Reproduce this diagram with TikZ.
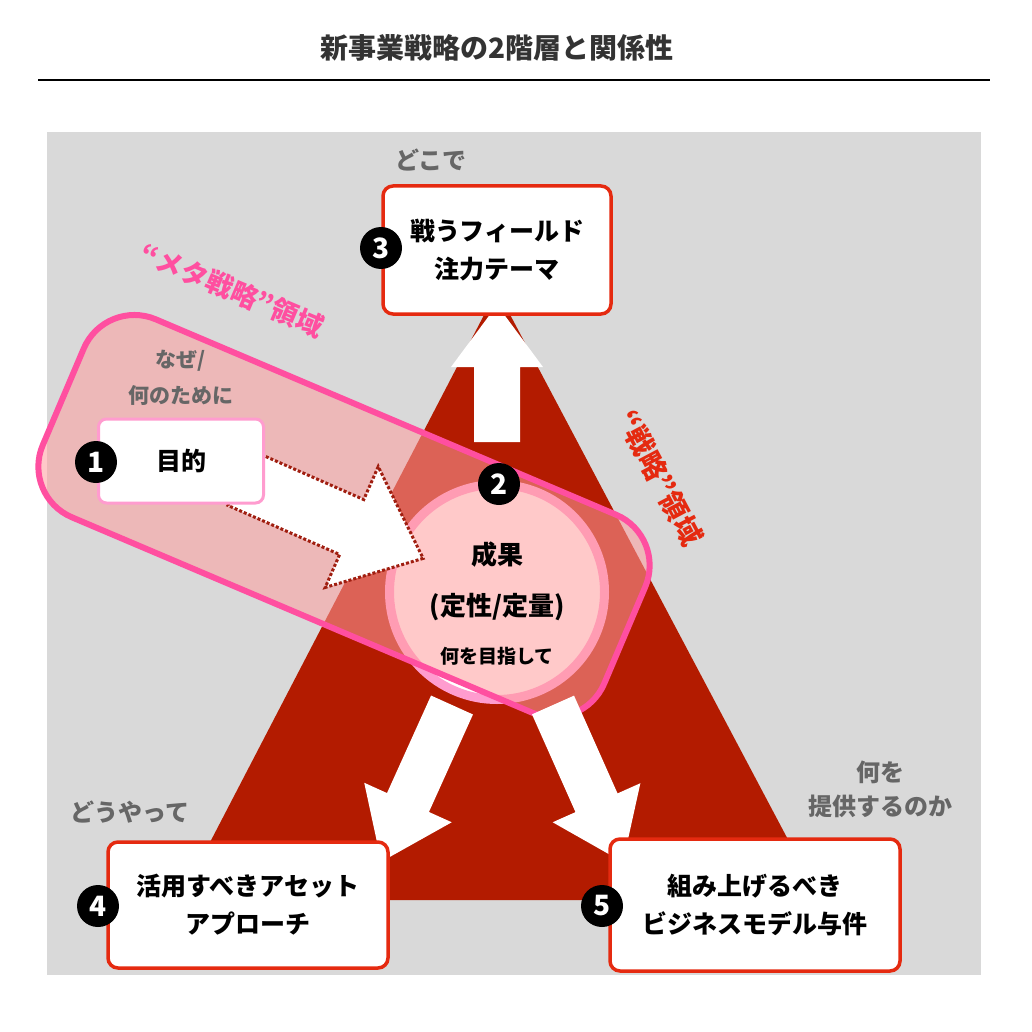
\documentclass[tikz,border=0pt]{standalone}
\usepackage{fontspec}
\setmainfont{Noto Sans CJK JP}
\usetikzlibrary{positioning}
\definecolor{bggray}{HTML}{D9D9D9}
\definecolor{tri}{HTML}{B31B00}
\definecolor{bandline}{HTML}{FF4FA0}
\definecolor{bandfill}{HTML}{FF9D9D}
\definecolor{boxred}{HTML}{E52A10}
\definecolor{boxpink}{HTML}{FF9CCF}
\definecolor{labgray}{HTML}{666666}
\definecolor{dotred}{HTML}{A01E10}
% tail, angle, length, shaft half width, head half width, head length, style
\newcommand{\fatarrow}[7]{%
  \begin{scope}[shift={#1},rotate=#2]
    \path[#7] (0,-#4) -- (#3-#6,-#4) -- (#3-#6,-#5) -- (#3,0) -- (#3-#6,#5) -- (#3-#6,#4) -- (0,#4) -- cycle;
  \end{scope}}
\begin{document}
\begin{tikzpicture}[x=1pt, y=-1pt, font=\bfseries]
    % Define styles
    \tikzset{
      redbox/.style={draw=boxred, line width=3.5pt, fill=white, rounded corners=10pt, align=center, font=\fontsize{25}{38}\selectfont\bfseries},
      badge/.style={circle, fill=black, text=white, minimum size=42pt, inner sep=0pt, font=\fontsize{28}{28}\selectfont\bfseries},
      side/.style={text=labgray, align=center, font=\fontsize{24}{34}\selectfont\bfseries}
    }
    \useasboundingbox (0,0) rectangle (1032,1032);

    % Title
    \node[font=\fontsize{28}{28}\selectfont\bfseries, text=black!80] (title) at (497,48) {新事業戦略の2階層と関係性};
    \draw[line width=1.5pt] (38,80) -- (990,80);

    % Background and triangle
    \fill[bggray] (47,132) rectangle (981,975);
    \fill[tri] (497,290) -- (180,900) -- (820,900) -- cycle;

    % Result circle
    \node[circle, draw=boxpink, line width=9pt, fill=white, minimum size=215pt] (goal) at (497,592) {};

    % Meta strategy band
    \node[draw=bandline, line width=6pt, fill=bandfill, fill opacity=0.55, rounded corners=55pt,
          minimum width=610pt, minimum height=215pt, rotate=-23] (band) at (344,516) {};
    \node[text=bandline, rotate=-23, font=\fontsize{27}{27}\selectfont\bfseries] (meta) at (232,290) {“メタ戦略”領域};
    \node[text=boxred, rotate=-62, font=\fontsize{28}{28}\selectfont\bfseries] (strat) at (660,478) {“戦略”領域};

    % Circle texts
    \node[font=\fontsize{26}{30}\selectfont\bfseries] (goal-a) at (497,555) {成果};
    \node[font=\fontsize{26}{30}\selectfont\bfseries] (goal-b) at (497,607) {(定性/定量)};
    \node[font=\fontsize{19}{22}\selectfont\bfseries] (goal-c) at (497,656) {何を目指して};

    % Arrows
    \fatarrow{(497,442)}{90}{137}{23}{46}{62}{fill=white}
    \fatarrow{(452,705)}{245.7}{172}{23}{48}{65}{fill=white}
    \fatarrow{(553,705)}{294}{172}{23}{48}{65}{fill=white}
    \fatarrow{(240,478)}{-23.7}{200}{30}{66}{78}{fill=white, draw=dotred, line width=3pt, dotted}

    % Boxes
    \node[draw=boxpink, line width=3pt, fill=white, rounded corners=8pt, minimum width=165pt, minimum height=84pt,
          font=\fontsize{25}{25}\selectfont\bfseries] (purpose) at (181,461) {目的};
    \node[redbox, minimum width=228pt, minimum height=128pt] (field) at (497,250) {戦うフィールド\\注力テーマ};
    \node[redbox, minimum width=280pt, minimum height=126pt] (asset) at (248,905) {活用すべきアセット\\アプローチ};
    \node[redbox, minimum width=290pt, minimum height=132pt] (model) at (755,905) {組み上げるべき\\ビジネスモデル与件};

    % Badges
    \node[badge] (n1) at (96,462) {1};
    \node[badge] (n2) at (499,484) {2};
    \node[badge] (n3) at (381,248) {3};
    \node[badge] (n4) at (98,906) {4};
    \node[badge] (n5) at (602,906) {5};

    % Side labels
    \node[side] (where) at (431,160) {どこで};
    \node[side, font=\fontsize{21}{36}\selectfont\bfseries] (why) at (181,378) {なぜ/\\何のために};
    \node[side] (how) at (130,812) {どうやって};
    \node[side] (what) at (880,789) {何を\\提供するのか};
\end{tikzpicture}
\end{document}
